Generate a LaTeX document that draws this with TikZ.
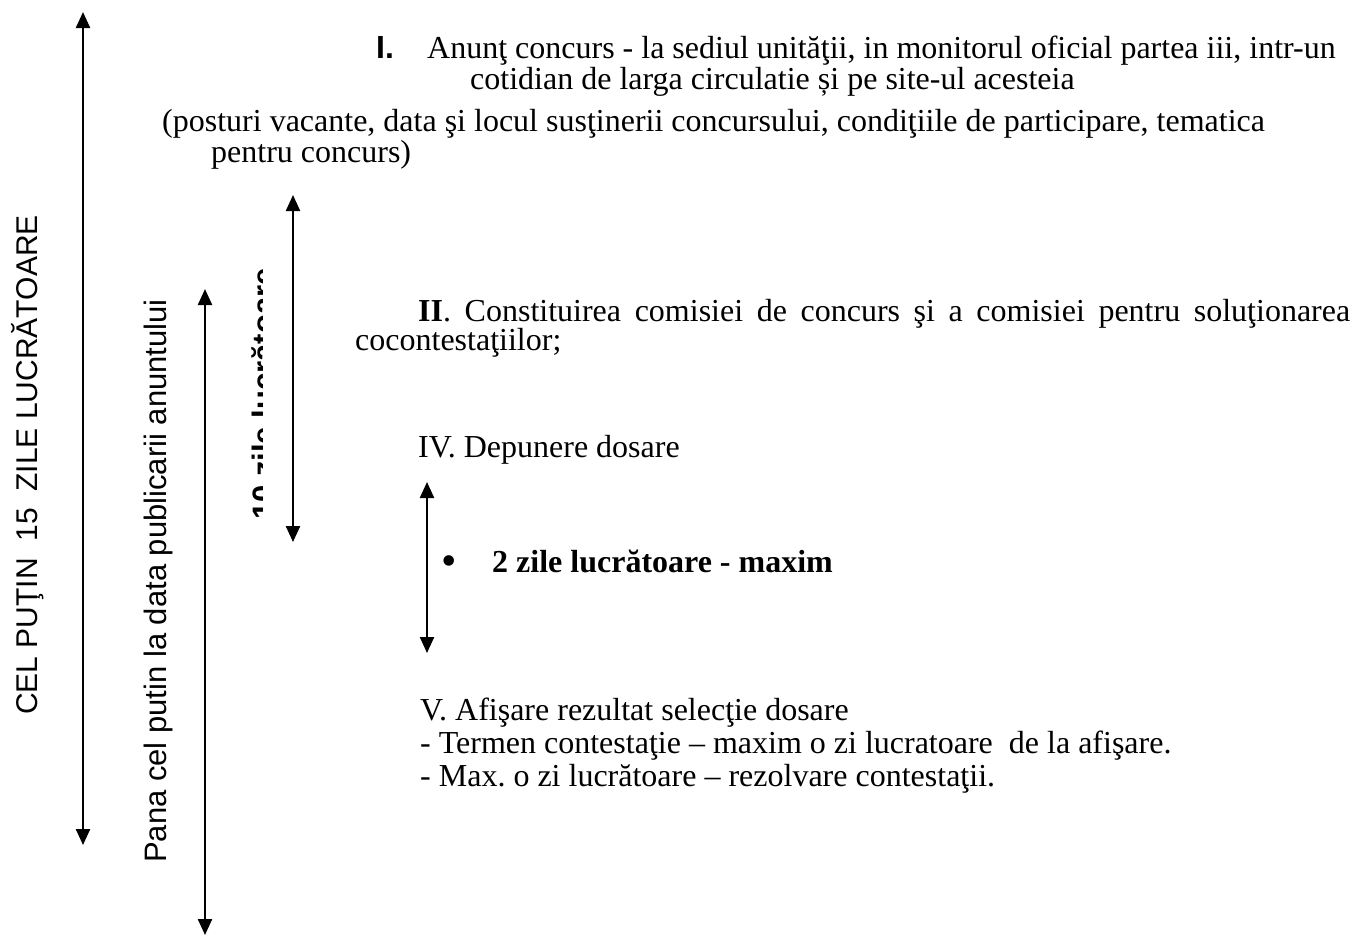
\documentclass[tikz,border=0pt]{standalone}
\usepackage{fontspec}
\setmainfont{Liberation Serif}
\newfontfamily\arial{Liberation Sans}
\usetikzlibrary{arrows.meta}
\begin{document}
\frenchspacing
\begin{tikzpicture}[x=1pt,y=-1pt,
  arr/.style={line width=2.3pt, {Triangle[length=16pt,width=14pt]}-{Triangle[length=16pt,width=14pt]}},
  txt/.style={inner sep=0pt, anchor=base west, font=\fontsize{32}{38}\selectfont},
  vtxt/.style={inner sep=0pt, anchor=base, rotate=90, font=\arial\fontsize{31}{36}\selectfont}]
\useasboundingbox (0,0) rectangle (1365,938);
% arrows
\coordinate (a1t) at (83,12);  \coordinate (a1b) at (83,845);
\coordinate (a2t) at (205,289); \coordinate (a2b) at (205,935);
\coordinate (a3t) at (293,195); \coordinate (a3b) at (293,542);
\coordinate (a4t) at (427,482); \coordinate (a4b) at (427,653);
\draw[arr] (a1t) -- (a1b);
\draw[arr] (a2t) -- (a2b);
\draw[arr] (a3t) -- (a3b);
\draw[arr] (a4t) -- (a4b);
% rotated labels
\node[vtxt, font=\arial\fontsize{30}{36}\selectfont] (cel) at (37,465) {CEL PUŢIN\ \ 15\ \ ZILE LUCRĂTOARE};
\node[vtxt] (pana) at (166,581) {Pana cel putin la data publicarii anuntului};
\begin{scope}
\clip (230,250) rectangle (262,530);
\node[vtxt, font=\arial\bfseries\fontsize{31}{36}\selectfont] (ten) at (274,394) {10 zile lucrătoare};
\end{scope}
% texts
\node[txt, font=\arial\bfseries\fontsize{32}{38}\selectfont] (n1) at (376,58) {I.};
\node[txt] (l1) at (427,58) {Anunţ concurs - la sediul unităţii, in monitorul oficial partea iii, intr-un};
\node[txt] (l2) at (470,89) {cotidian de larga circulatie și pe site-ul acesteia};
\node[txt] (l3) at (162,131) {(posturi vacante, data şi locul susţinerii concursului, condiţiile de participare, tematica};
\node[txt] (l4) at (211,162) {pentru concurs)};
\node[txt] (ii) at (418,321) {\makebox[932pt][s]{\textbf{II}. Constituirea comisiei de concurs şi a comisiei pentru soluţionarea}};
\node[txt] (ii2) at (355,350) {cocontestaţiilor;};
\node[txt] (iv) at (418,457) {IV. Depunere dosare};
\node[txt, font=\fontsize{44}{44}\selectfont] (bul) at (441,575) {•};
\node[txt, font=\bfseries\fontsize{32}{38}\selectfont] (two) at (492,572) {2 zile lucrătoare - maxim};
\node[txt] (v1) at (420,720) {V. Afişare rezultat selecţie dosare};
\node[txt] (v2) at (420,753) {- Termen contestaţie – maxim o zi lucratoare\ \ de la afişare.};
\node[txt] (v3) at (420,786) {- Max. o zi lucrătoare – rezolvare contestaţii.};
\end{tikzpicture}
\end{document}
